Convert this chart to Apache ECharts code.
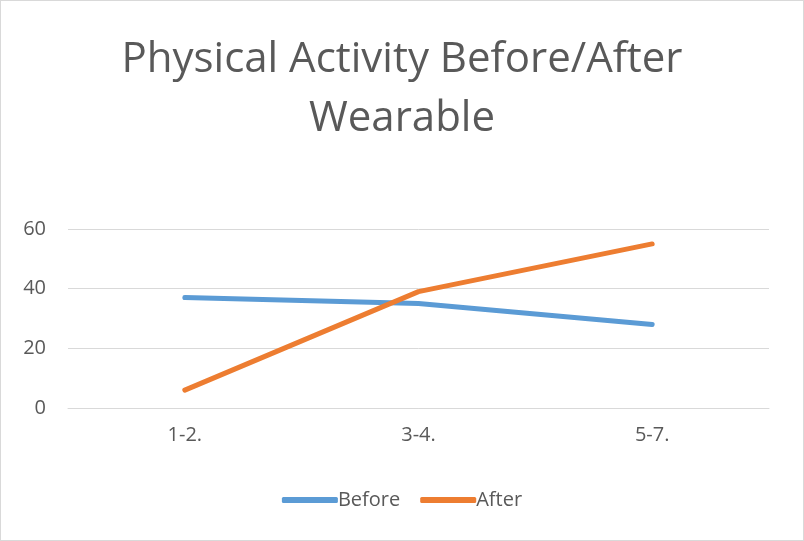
<!DOCTYPE html>
<html>
<head>
<meta charset="utf-8">
<script src="https://cdn.jsdelivr.net/npm/echarts@6/dist/echarts.min.js"></script>
<style>
  html, body { margin: 0; padding: 0; background: #fff; }
  #chart { width: 804px; height: 541px; box-sizing: border-box; border: 1px solid #d9d9d9; }
</style>
</head>
<body>
<div id="chart"></div>
<script>
// Days per week of physical activity, before and after wearing a tracker
const categories = ['1-2.', '3-4.', '5-7.'];
const beforeValues = [37, 35, 28];
const afterValues = [6, 39, 55];
const yTicks = [0, 20, 40, 60];

const textColor = '#595959';
const fontFamily = '"Open Sans", "Noto Sans", sans-serif';

const chart = echarts.init(document.getElementById('chart'), null, { renderer: 'canvas' });
chart.setOption({
  animation: false,
  backgroundColor: '#fff',
  title: {
    text: 'Physical Activity Before/After\nWearable',
    left: 'center',
    top: 25,
    textStyle: { color: textColor, fontFamily, fontSize: 42, fontWeight: 'normal', lineHeight: 59 }
  },
  legend: {
    top: 484,
    left: 'center',
    itemWidth: 56,
    itemHeight: 6,
    itemGap: 20,
    icon: 'roundRect',
    textStyle: { color: textColor, fontFamily, fontSize: 20, padding: [0, 0, 0, -5] },
    data: ['Before', 'After']
  },
  grid: { left: 67, right: 34, top: 228, bottom: 132 },
  xAxis: {
    type: 'category',
    data: categories,
    boundaryGap: true,
    axisLine: { show: true, lineStyle: { color: '#d9d9d9', width: 1 } },
    axisTick: { show: false },
    axisLabel: { color: textColor, fontFamily, fontSize: 20, margin: 17 }
  },
  yAxis: {
    type: 'value',
    min: yTicks[0],
    max: yTicks[yTicks.length - 1],
    interval: 20,
    axisLine: { show: false },
    axisTick: { show: false },
    splitLine: { lineStyle: { color: '#d9d9d9', width: 1 } },
    axisLabel: { color: textColor, fontFamily, fontSize: 20, margin: 22 }
  },
  series: [
    {
      name: 'Before', type: 'line', data: beforeValues,
      symbol: 'none',
      itemStyle: { color: '#5B9BD5' },
      lineStyle: { color: '#5B9BD5', width: 5, cap: 'round', join: 'round' }
    },
    {
      name: 'After', type: 'line', data: afterValues,
      symbol: 'none',
      itemStyle: { color: '#ED7D31' },
      lineStyle: { color: '#ED7D31', width: 5, cap: 'round', join: 'round' }
    }
  ]
});
</script>
</body>
</html>
